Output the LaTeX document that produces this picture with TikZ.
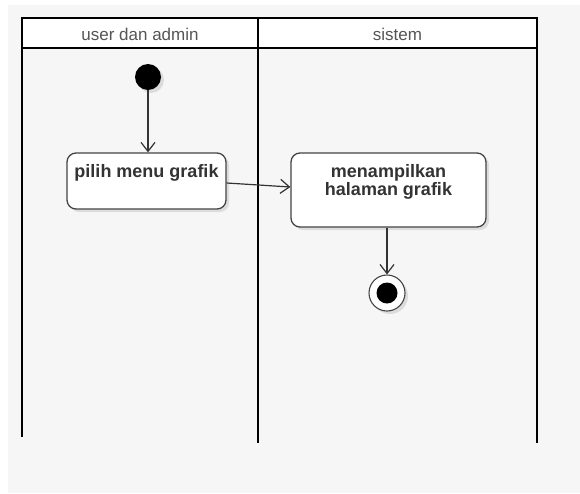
\documentclass[tikz,border=0pt]{standalone}
\usepackage{fontspec}
\setmainfont{Liberation Sans}
\usetikzlibrary{arrows.meta,shadows}
\definecolor{bgc}{HTML}{F6F6F6}
\definecolor{hdrtxt}{HTML}{555555}
\definecolor{boxline}{HTML}{444444}
\definecolor{arrc}{HTML}{333333}
\tikzset{
  lane/.style={line width=2pt, black},
  hdr/.style={font=\fontsize{17}{17}\selectfont, text=hdrtxt, inner sep=0pt},
  shd/.style={drop shadow={shadow xshift=3pt, shadow yshift=-3pt, opacity=0.10, fill=black}},
  actbox/.style={draw=boxline, line width=1.3pt, fill=white, rounded corners=9pt, inner sep=0pt, shd,
    font=\fontsize{18}{18}\selectfont\bfseries, text=arrc},
  startnode/.style={circle, fill=black, minimum size=26pt, inner sep=0pt, shd},
  endouter/.style={circle, draw=boxline, line width=1.1pt, fill=white, minimum size=36pt, inner sep=0pt, shd},
  endinner/.style={circle, fill=black, minimum size=21pt, inner sep=0pt},
  arr/.style={draw=arrc, line width=1.2pt, -{Straight Barb[length=9pt,width=14pt,line width=1.2pt]}}
}
\begin{document}
\begin{tikzpicture}[x=1pt,y=-1pt]
\useasboundingbox (0,0) rectangle (580,493);
\fill[white] (0,0) rectangle (580,493);
\fill[bgc] (8,5) rectangle (580,493);
% header
\fill[white] (22,18) rectangle (537,48);
\draw[lane] (22,18) -- (537,18);
\draw[lane] (22,48) -- (537,48);
\draw[lane] (22,17) -- (22,437);
\draw[lane] (258,17) -- (258,443);
\draw[lane] (537,17) -- (537,443);
\node[hdr] (h1) at (140,34) {user dan admin};
\node[hdr] (h2) at (397.5,34) {sistem};
% nodes
\node[startnode] (start) at (148,77) {};
\node[actbox, minimum width=159pt, minimum height=56pt] (b1) at (146.5,181)
  {\parbox[c][56pt][t]{159pt}{\centering\rule{0pt}{24pt}pilih menu grafik}};
\node[actbox, minimum width=195pt, minimum height=74pt] (b2) at (388.5,190)
  {\parbox[c][74pt][t]{195pt}{\centering\rule{0pt}{24pt}menampilkan\\halaman grafik}};
\node[endouter] (endo) at (387,293) {};
\node[endinner] (endi) at (endo.center) {};
% connectors
\draw[arr] (start.south) -- (start.south |- b1.north);
\draw[arr] ([yshift=-2pt]b1.east) -- ([yshift=3pt]b2.west);
\draw[arr] (endo.north |- b2.south) -- (endo.north);
\end{tikzpicture}
\end{document}
